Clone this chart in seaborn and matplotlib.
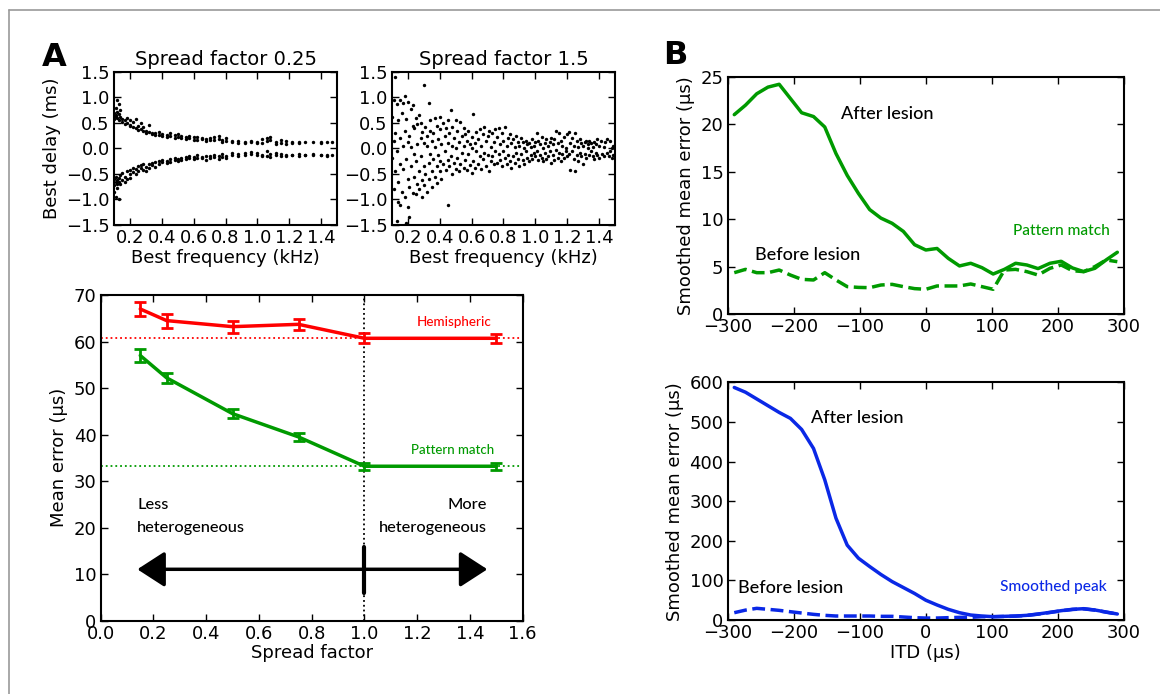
import numpy as np
import pandas as pd
import seaborn as sns
import matplotlib.pyplot as plt
from matplotlib.lines import Line2D
from matplotlib.patches import FancyArrowPatch

# ---- panel A, scatter: best delay vs best frequency, spread factor 0.25 (two branches)
sf025_upper = [
    (0.10, 0.62), (0.10, 0.70), (0.10, 0.58), (0.11, 0.66), (0.11, 0.80), (0.11, 0.64),
    (0.12, 0.95), (0.12, 0.72), (0.12, 0.60), (0.13, 0.88), (0.13, 0.55), (0.13, 0.68),
    (0.14, 0.62), (0.14, 0.75), (0.15, 0.58), (0.15, 0.52), (0.17, 0.55), (0.17, 0.48),
    (0.18, 0.60), (0.18, 0.50), (0.20, 0.47), (0.20, 0.55), (0.20, 0.44), (0.22, 0.52),
    (0.22, 0.42), (0.24, 0.57), (0.24, 0.40), (0.25, 0.45), (0.25, 0.36), (0.27, 0.38),
    (0.27, 0.50), (0.28, 0.34), (0.28, 0.42), (0.30, 0.35), (0.30, 0.30), (0.32, 0.33),
    (0.32, 0.46), (0.34, 0.28), (0.34, 0.31), (0.36, 0.30), (0.36, 0.27), (0.38, 0.26),
    (0.38, 0.32), (0.40, 0.29), (0.40, 0.25), (0.43, 0.27), (0.43, 0.22), (0.45, 0.24),
    (0.45, 0.30), (0.48, 0.26), (0.48, 0.21), (0.50, 0.22), (0.50, 0.28), (0.52, 0.25),
    (0.52, 0.20), (0.55, 0.22), (0.55, 0.18), (0.57, 0.20), (0.57, 0.25), (0.60, 0.17),
    (0.60, 0.22), (0.62, 0.23), (0.62, 0.16), (0.65, 0.19), (0.65, 0.20), (0.68, 0.18),
    (0.68, 0.15), (0.70, 0.21), (0.70, 0.17), (0.73, 0.16), (0.73, 0.22), (0.76, 0.19),
    (0.76, 0.24), (0.78, 0.17), (0.78, 0.13), (0.80, 0.21), (0.80, 0.15), (0.84, 0.12),
    (0.84, 0.14), (0.88, 0.11), (0.88, 0.15), (0.92, 0.13), (0.92, 0.10), (0.96, 0.14),
    (0.96, 0.12), (1.00, 0.11), (1.00, 0.13), (1.03, 0.18), (1.03, 0.10), (1.06, 0.20),
    (1.06, 0.14), (1.08, 0.16), (1.08, 0.22), (1.12, 0.13), (1.12, 0.09), (1.15, 0.17),
    (1.15, 0.11), (1.18, 0.08), (1.18, 0.14), (1.22, 0.12), (1.22, 0.11), (1.26, 0.13),
    (1.26, 0.10), (1.30, 0.12), (1.35, 0.13), (1.40, 0.12), (1.40, 0.11), (1.44, 0.13),
    (1.47, 0.12),
]
sf025_lower = [
    (0.10, -0.60), (0.10, -0.72), (0.10, -0.85), (0.11, -0.55), (0.11, -0.95), (0.11, -0.65),
    (0.12, -0.70), (0.12, -0.62), (0.12, -0.78), (0.13, -0.58), (0.13, -0.66), (0.13, -1.00),
    (0.14, -0.52), (0.14, -0.70), (0.15, -0.62), (0.15, -0.48), (0.17, -0.55), (0.17, -0.66),
    (0.18, -0.45), (0.18, -0.60), (0.20, -0.50), (0.20, -0.58), (0.20, -0.42), (0.22, -0.47),
    (0.22, -0.38), (0.24, -0.40), (0.24, -0.50), (0.25, -0.35), (0.25, -0.44), (0.27, -0.32),
    (0.27, -0.38), (0.28, -0.42), (0.28, -0.30), (0.30, -0.36), (0.30, -0.45), (0.32, -0.30),
    (0.32, -0.38), (0.34, -0.28), (0.34, -0.33), (0.36, -0.26), (0.36, -0.36), (0.38, -0.30),
    (0.38, -0.24), (0.40, -0.27), (0.40, -0.22), (0.43, -0.25), (0.43, -0.29), (0.45, -0.21),
    (0.45, -0.26), (0.48, -0.23), (0.48, -0.19), (0.50, -0.20), (0.50, -0.25), (0.52, -0.18),
    (0.52, -0.22), (0.55, -0.16), (0.55, -0.21), (0.57, -0.19), (0.57, -0.14), (0.60, -0.17),
    (0.60, -0.20), (0.62, -0.13), (0.62, -0.18), (0.65, -0.16), (0.65, -0.19), (0.68, -0.15),
    (0.68, -0.22), (0.70, -0.18), (0.70, -0.14), (0.73, -0.12), (0.73, -0.16), (0.76, -0.20),
    (0.76, -0.15), (0.78, -0.17), (0.78, -0.11), (0.80, -0.14), (0.80, -0.18), (0.84, -0.12),
    (0.84, -0.09), (0.88, -0.10), (0.88, -0.14), (0.92, -0.08), (0.92, -0.12), (0.96, -0.11),
    (0.96, -0.07), (1.00, -0.09), (1.00, -0.13), (1.03, -0.12), (1.03, -0.14), (1.06, -0.04),
    (1.06, -0.15), (1.08, -0.10), (1.08, -0.17), (1.12, -0.13), (1.12, -0.08), (1.15, -0.14),
    (1.15, -0.11), (1.18, -0.12), (1.18, -0.15), (1.22, -0.13), (1.22, -0.12), (1.26, -0.11),
    (1.26, -0.14), (1.30, -0.12), (1.30, -0.13), (1.35, -0.13), (1.35, -0.11), (1.40, -0.12),
    (1.40, -0.13), (1.44, -0.14), (1.44, -0.12), (1.47, -0.13),
]

# ---- panel A, scatter: spread factor 1.5
sf15_points = [
    (0.10, 0.62), (0.10, -0.18), (0.11, 0.15), (0.11, -0.80), (0.11, 0.95), (0.12, 1.40),
    (0.12, -0.45), (0.12, 0.30), (0.13, -1.42), (0.13, 0.88), (0.13, -0.05), (0.14, -1.05),
    (0.14, 0.55), (0.14, -0.65), (0.15, 0.96), (0.15, 0.20), (0.15, -0.30), (0.15, -1.10),
    (0.16, 0.70), (0.16, -0.85), (0.17, 0.05), (0.17, 0.90), (0.17, -0.40), (0.18, 1.02),
    (0.18, -0.95), (0.18, 0.35), (0.19, -1.47), (0.19, -0.20), (0.19, 0.58), (0.20, 0.92),
    (0.20, -0.60), (0.20, 0.12), (0.20, -1.15), (0.21, -1.34), (0.21, 0.25), (0.21, -0.75),
    (0.22, 0.78), (0.22, -0.35), (0.22, 0.02), (0.23, -0.88), (0.23, 0.45), (0.23, 0.85),
    (0.24, -0.10), (0.24, -0.55), (0.24, 0.40), (0.25, 0.60), (0.25, -0.25), (0.25, -0.90),
    (0.26, 0.48), (0.26, -0.70), (0.26, 0.08), (0.27, -0.45), (0.27, 0.65), (0.27, -0.80),
    (0.28, 0.20), (0.28, -0.15), (0.28, 0.50), (0.29, -0.62), (0.29, 0.32), (0.29, -0.95),
    (0.30, 1.25), (0.30, 0.10), (0.30, -0.35), (0.30, -0.72), (0.31, 0.42), (0.31, -0.50),
    (0.32, 0.05), (0.32, -0.85), (0.32, 0.25), (0.33, 0.90), (0.33, -0.28), (0.33, -0.60),
    (0.34, 0.55), (0.34, -0.10), (0.34, 0.35), (0.35, -0.45), (0.35, 0.15), (0.35, -0.75),
    (0.36, 0.30), (0.36, -0.20), (0.37, 0.60), (0.37, -0.55), (0.37, 0.02), (0.38, -0.35),
    (0.38, 0.45), (0.38, -0.68), (0.39, 0.18), (0.39, -0.12), (0.40, 0.38), (0.40, -0.45),
    (0.40, 0.62), (0.40, -0.25), (0.41, 0.08), (0.41, -0.60), (0.42, 0.50), (0.42, -0.30),
    (0.43, 0.25), (0.43, -0.05), (0.44, -0.42), (0.44, 0.40), (0.45, -1.10), (0.45, 0.10),
    (0.45, -0.22), (0.45, 0.55), (0.46, 0.30), (0.46, -0.35), (0.47, 0.75), (0.47, -0.15),
    (0.48, 0.05), (0.48, -0.50), (0.48, 0.42), (0.49, -0.28), (0.49, 0.20), (0.50, -0.40),
    (0.50, 0.55), (0.50, 0.00), (0.51, 0.35), (0.51, -0.18), (0.52, -0.45), (0.52, 0.12),
    (0.53, 0.52), (0.53, -0.30), (0.54, 0.25), (0.54, -0.08), (0.55, 0.40), (0.55, -0.38),
    (0.55, 0.05), (0.56, -0.22), (0.56, 0.28), (0.57, 0.15), (0.57, -0.42), (0.58, 0.35),
    (0.58, -0.10), (0.59, 0.08), (0.59, -0.32), (0.60, 0.22), (0.60, -0.48), (0.60, 0.00),
    (0.61, 0.68), (0.61, -0.25), (0.62, 0.10), (0.62, -0.38), (0.63, 0.32), (0.63, -0.05),
    (0.64, 0.18), (0.64, -0.30), (0.65, 0.38), (0.65, -0.15), (0.66, -0.40), (0.66, 0.05),
    (0.67, 0.28), (0.67, -0.20), (0.68, 0.42), (0.68, -0.08), (0.69, 0.15), (0.69, -0.35),
    (0.70, 0.25), (0.70, -0.12), (0.71, 0.35), (0.71, -0.45), (0.72, 0.02), (0.72, -0.25),
    (0.73, 0.30), (0.73, -0.15), (0.74, 0.12), (0.74, -0.30), (0.75, 0.38), (0.75, -0.05),
    (0.76, 0.22), (0.76, -0.28), (0.77, -0.10), (0.77, 0.40), (0.78, 0.08), (0.78, -0.22),
    (0.79, 0.30), (0.79, -0.35), (0.80, 0.15), (0.80, -0.05), (0.81, 0.42), (0.81, -0.18),
    (0.82, 0.05), (0.82, -0.30), (0.83, 0.20), (0.83, -0.12), (0.84, 0.28), (0.84, -0.25),
    (0.85, 0.10), (0.85, -0.38), (0.86, 0.18), (0.86, -0.15), (0.87, 0.02), (0.87, -0.28),
    (0.88, 0.25), (0.88, -0.08), (0.89, 0.12), (0.89, -0.20), (0.90, 0.05), (0.90, -0.35),
    (0.91, 0.20), (0.91, -0.10), (0.92, -0.22), (0.92, 0.12), (0.93, 0.00), (0.93, -0.30),
    (0.94, 0.15), (0.94, -0.05), (0.95, 0.08), (0.95, -0.18), (0.96, 0.10), (0.96, -0.25),
    (0.97, 0.02), (0.97, -0.12), (0.98, 0.18), (0.98, -0.20), (0.99, 0.05), (0.99, -0.08),
    (1.00, 0.12), (1.00, -0.15), (1.01, 0.30), (1.01, -0.05), (1.02, 0.15), (1.02, -0.22),
    (1.03, 0.08), (1.03, -0.12), (1.04, 0.22), (1.04, -0.18), (1.05, 0.00), (1.05, -0.25),
    (1.06, 0.10), (1.06, -0.08), (1.07, 0.18), (1.07, -0.20), (1.08, 0.05), (1.08, -0.15),
    (1.09, 0.12), (1.09, -0.05), (1.10, 0.20), (1.10, -0.28), (1.11, 0.08), (1.11, -0.12),
    (1.12, 0.18), (1.12, -0.22), (1.13, 0.35), (1.13, -0.02), (1.14, 0.10), (1.14, -0.18),
    (1.15, 0.30), (1.15, -0.08), (1.16, 0.15), (1.16, -0.25), (1.17, 0.05), (1.17, -0.10),
    (1.18, 0.22), (1.18, -0.18), (1.19, 0.00), (1.19, -0.05), (1.20, 0.28), (1.20, -0.15),
    (1.21, 0.32), (1.21, -0.10), (1.22, 0.10), (1.22, -0.42), (1.23, 0.20), (1.23, -0.05),
    (1.24, 0.05), (1.24, -0.20), (1.25, 0.30), (1.25, -0.45), (1.26, 0.15), (1.26, -0.12),
    (1.27, 0.02), (1.27, -0.25), (1.28, 0.18), (1.28, -0.08), (1.29, 0.10), (1.29, -0.15),
    (1.30, 0.05), (1.30, -0.30), (1.31, 0.12), (1.31, -0.10), (1.32, 0.15), (1.32, -0.18),
    (1.33, 0.08), (1.33, 0.00), (1.34, 0.15), (1.34, -0.12), (1.35, -0.05), (1.35, 0.10),
    (1.36, 0.02), (1.36, -0.15), (1.37, 0.12), (1.37, -0.20), (1.38, 0.08), (1.38, -0.08),
    (1.39, 0.18), (1.39, -0.12), (1.40, 0.05), (1.40, -0.18), (1.41, 0.15), (1.42, -0.10),
    (1.43, 0.02), (1.43, -0.15), (1.44, 0.12), (1.45, 0.18), (1.45, -0.08), (1.46, -0.15),
    (1.47, 0.15), (1.47, -0.05), (1.48, 0.00), (1.48, -0.18), (1.49, 0.05), (1.49, -0.12),
]

# ---- panel A, mean error vs spread factor
spread = [0.15, 0.25, 0.5, 0.75, 1.0, 1.5]
hemi_err = [67.0, 64.5, 63.2, 63.7, 60.7, 60.7]
hemi_sem = [1.5, 1.5, 1.3, 1.2, 1.1, 1.0]
pm_err = [57.0, 52.2, 44.5, 39.5, 33.2, 33.2]
pm_sem = [1.3, 1.1, 0.9, 0.9, 0.8, 0.8]

# ---- panel B, smoothed mean error vs ITD
itd = [-290, -273, -256, -239, -222, -205, -188, -170, -153, -136, -119, -102,
       -85, -68, -51, -34, -17, 0, 17, 34, 51, 68, 85, 102, 119, 136, 153,
       170, 188, 205, 222, 239, 256, 273, 290]
pm_after = [21.0, 22.0, 23.2, 23.9, 24.2, 22.7, 21.2, 20.8, 19.7, 16.9, 14.6, 12.7,
            11.0, 10.1, 9.55, 8.7, 7.3, 6.74, 6.9, 5.86, 5.06, 5.34, 4.88, 4.21, 4.7,
            5.34, 5.16, 4.78, 5.34, 5.55, 4.85, 4.46, 4.81, 5.69, 6.5]
pm_before = [4.35, 4.7, 4.35, 4.35, 4.63, 4.1, 3.65, 3.58, 4.35, 3.58, 2.88, 2.8,
             2.77, 3.05, 3.12, 2.88, 2.67, 2.6, 2.95, 2.95, 2.95, 3.16, 2.88, 2.6, 4.63,
             4.7, 4.46, 4.1, 4.81, 5.16, 4.56, 4.46, 4.99, 5.69, 5.51]
sp_after = [587, 575, 558, 541, 524, 509, 481, 433, 354, 257, 189, 156,
            135, 115, 97, 82, 67, 50, 38, 27, 18.5, 12.6, 10.1, 8.4, 9.3,
            10.1, 11.8, 15.2, 19.4, 23.6, 27, 28.6, 25.3, 20.2, 15.2]
sp_before = [18.5, 25, 29.5, 27, 24.4, 21, 17.7, 14.3, 11.8, 10.1, 10.1, 10.1,
             10.1, 9.3, 9.3, 7.6, 5.9, 5, 5, 5.9, 6.7, 6.7, 8.4, 8.4, 9.0,
             9.8, 11.5, 14.8, 19.0, 23.2, 26.6, 28.2, 25.0, 19.8, 15.0]

RED = '#ff0000'
GREEN = '#009a00'
BLUE = '#0a28e6'
ANNOT_FONT = ['Lato', 'DejaVu Sans']
ANNOT_WEIGHT = 'medium'

sns.set_style('ticks')
plt.rcParams['font.family'] = ['DejaVu Sans']
plt.rcParams.update({
    'text.color': 'black', 'axes.labelcolor': 'black',
    'xtick.color': 'black', 'ytick.color': 'black',
    'xtick.direction': 'in', 'ytick.direction': 'in',
    'xtick.major.size': 5, 'ytick.major.size': 5,
    'xtick.major.width': 1, 'ytick.major.width': 1,
    'xtick.labelsize': 13, 'ytick.labelsize': 13,
    'axes.linewidth': 1.5, 'axes.edgecolor': 'black',
    'axes.labelsize': 13,
})

fig = plt.figure(figsize=(11.6, 6.94), dpi=100)


def style_axes(ax):
    ax.tick_params(top=True, right=True, pad=3)
    for s in ax.spines.values():
        s.set_visible(True)


# scatter panels
ax1 = fig.add_axes([0.0983, 0.6758, 0.1922, 0.2205])
ax2 = fig.add_axes([0.3379, 0.6758, 0.1922, 0.2205])
for ax, pts, title in [(ax1, sf025_upper + sf025_lower, 'Spread factor 0.25'),
                       (ax2, sf15_points, 'Spread factor 1.5')]:
    df = pd.DataFrame(pts, columns=['freq', 'delay'])
    sns.scatterplot(data=df, x='freq', y='delay', ax=ax, color='black', s=6,
                    linewidth=0, legend=False)
    ax.set_xlim(0.1, 1.5)
    ax.set_ylim(-1.5, 1.5)
    ax.set_xticks([0.2, 0.4, 0.6, 0.8, 1.0, 1.2, 1.4])
    ax.set_yticks([-1.5, -1.0, -0.5, 0.0, 0.5, 1.0, 1.5])
    ax.set_xlabel('Best frequency (kHz)', labelpad=1)
    ax.set_ylabel('')
    ax.set_title(title, fontsize=14, pad=5)
    style_axes(ax)
ax1.set_ylabel('Best delay (ms)')

# mean error panel
ax3 = fig.add_axes([0.0868, 0.1056, 0.3638, 0.4693])
ax3.axhline(hemi_err[-1], color=RED, ls=':', lw=1.3)
ax3.axhline(pm_err[-1], color=GREEN, ls=':', lw=1.3)
ax3.axvline(1.0, color='black', ls=':', lw=1.3)
for vals, sem, col in [(hemi_err, hemi_sem, RED), (pm_err, pm_sem, GREEN)]:
    sns.lineplot(x=spread, y=vals, ax=ax3, color=col, lw=2.5)
    ax3.errorbar(spread, vals, yerr=sem, fmt='none', ecolor=col, elinewidth=2,
                 capsize=4, capthick=2)
ax3.set_xlim(0, 1.6)
ax3.set_ylim(0, 70)
ax3.set_xticks(np.arange(0, 1.61, 0.2))
ax3.set_yticks(range(0, 71, 10))
ax3.set_xlabel('Spread factor', labelpad=1)
ax3.set_ylabel('Mean error (µs)')
style_axes(ax3)
ax3.text(1.48, 64.1, 'Hemispheric', color=RED, ha='right', va='center',
         fontsize=9.7, family=ANNOT_FONT, fontweight=ANNOT_WEIGHT)
ax3.text(1.49, 36.7, 'Pattern match', color=GREEN, ha='right', va='center',
         fontsize=9.5, family=ANNOT_FONT, fontweight=ANNOT_WEIGHT)
ax3.text(0.139, 26.3, 'Less\nheterogeneous', ha='left', va='top', fontsize=11.8,
         family=ANNOT_FONT, fontweight=ANNOT_WEIGHT, linespacing=1.75)
ax3.text(1.466, 26.3, 'More\nheterogeneous', ha='right', va='top', fontsize=11.8,
         family=ANNOT_FONT, fontweight=ANNOT_WEIGHT, linespacing=1.75,
         multialignment='right')
arrow = FancyArrowPatch((0.139, 11.05), (1.466, 11.05),
                        arrowstyle='<|-|>,head_length=0.85,head_width=0.55',
                        mutation_scale=20, lw=2.5, color='black', shrinkA=0, shrinkB=0)
ax3.add_patch(arrow)
ax3.plot([1.0, 1.0], [6.0, 15.9], color='black', lw=3)

# panel B
ax4 = fig.add_axes([0.6273, 0.5476, 0.3416, 0.3419])
ax5 = fig.add_axes([0.6273, 0.1066, 0.3416, 0.3425])
for ax, after, before, col, ylim, yt in [
        (ax4, pm_after, pm_before, GREEN, 25, 5),
        (ax5, sp_after, sp_before, BLUE, 600, 100)]:
    sns.lineplot(x=itd, y=after, ax=ax, color=col, lw=2.5)
    sns.lineplot(x=itd, y=before, ax=ax, color=col, lw=2.5, linestyle='--')
    ax.set_xlim(-300, 300)
    ax.set_ylim(0, ylim)
    ax.set_xticks(range(-300, 301, 100))
    ax.set_yticks(range(0, ylim + 1, yt))
    ax.set_ylabel('Smoothed mean error (µs)')
    style_axes(ax)
ax5.set_xlabel('ITD (µs)', labelpad=1)

big = dict(ha='left', va='center', fontsize=13, family=ANNOT_FONT, fontweight=ANNOT_WEIGHT)
small = dict(ha='right', va='center', fontsize=11.2, family=ANNOT_FONT, fontweight=ANNOT_WEIGHT)
ax4.text(-128, 21.1, 'After lesion', **big)
ax4.text(-258, 6.2, 'Before lesion', **big)
ax4.text(278, 8.7, 'Pattern match', color=GREEN, **small)
ax5.text(-174, 509, 'After lesion', **big)
ax5.text(-285, 80, 'Before lesion', **big)
ax5.text(274, 84, 'Smoothed peak', color=BLUE, **small)

# panel letters and outer frame
fig.text(54 / 1160, 1 - 57 / 694, 'A', fontsize=23, fontweight='bold', ha='center', va='center')
fig.text(675 / 1160, 1 - 56 / 694, 'B', fontsize=23, fontweight='bold', ha='center', va='center')
fig.add_artist(Line2D([9 / 1160, 9 / 1160], [0, 1 - 10 / 694], color='#999999', lw=1.2))
fig.add_artist(Line2D([9 / 1160, 1], [1 - 10 / 694, 1 - 10 / 694], color='#999999', lw=1.2))

fig.savefig('out.png', dpi=100)
